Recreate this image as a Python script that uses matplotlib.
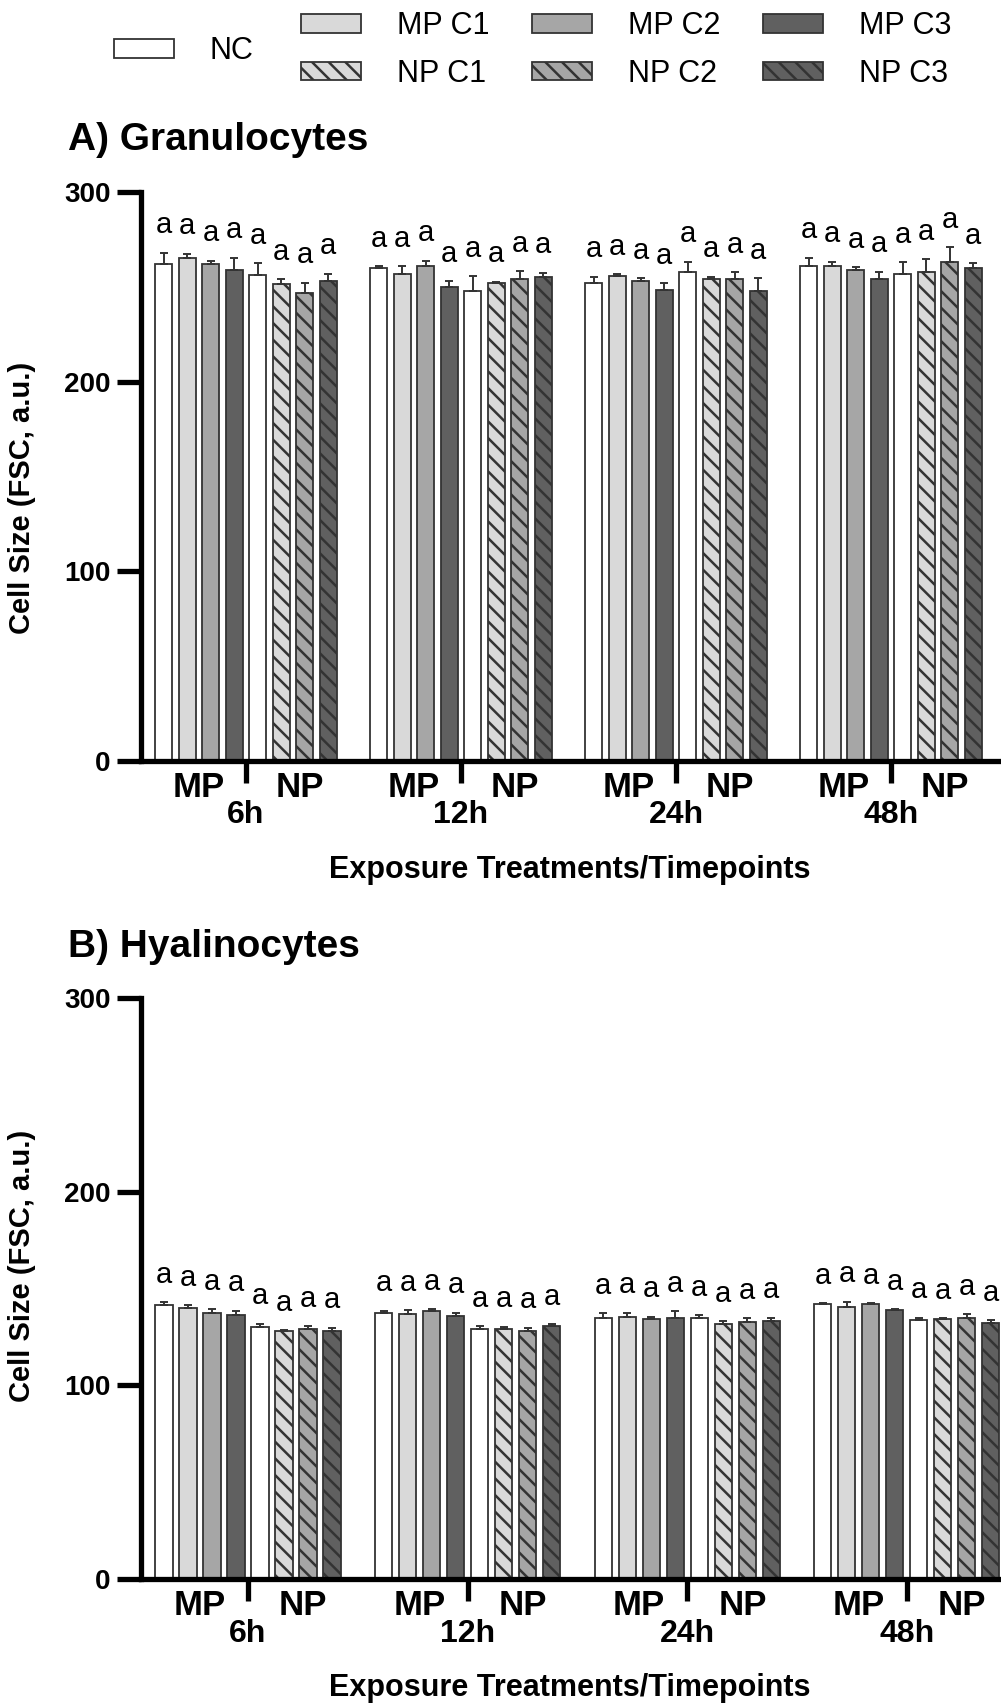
import numpy as np
import matplotlib
matplotlib.use("Agg")
import matplotlib.pyplot as plt
from matplotlib.transforms import blended_transform_factory

# ── Data ──────────────────────────────────────────────────────────────────────
timepoints = ["6h", "12h", "24h", "48h"]
subgroups = ["MP", "NP"]
treatments = ["NC", "MP C1", "MP C2", "MP C3", "NC", "NP C1", "NP C2", "NP C3"]

# rows = timepoints, columns = treatments
gran_mean = [
    [262.0, 265.4, 261.8, 258.8, 256.5, 251.3, 246.8, 253.0],
    [259.7, 256.7, 260.9, 250.0, 247.9, 251.8, 253.9, 255.0],
    [252.1, 255.7, 253.0, 248.3, 257.9, 254.1, 254.1, 247.9],
    [260.9, 260.9, 258.8, 254.1, 257.0, 257.9, 263.2, 260.0],
]
gran_err = [
    [6.0, 2.0, 2.0, 6.6, 6.0, 2.6, 5.3, 4.0],
    [1.2, 4.2, 2.8, 3.0, 7.8, 1.0, 4.4, 2.4],
    [3.2, 1.0, 1.5, 3.5, 5.3, 1.2, 3.5, 6.7],
    [4.5, 2.3, 1.4, 3.8, 6.0, 6.6, 7.6, 2.5],
]
hyal_mean = [
    [141.5, 139.8, 137.5, 136.3, 130.3, 128.0, 128.9, 128.0],
    [137.5, 136.8, 138.5, 135.8, 128.9, 128.9, 128.2, 130.8],
    [134.6, 135.4, 134.1, 134.6, 134.6, 131.6, 132.5, 133.2],
    [141.8, 140.6, 141.8, 138.9, 133.7, 134.1, 134.6, 132.3],
]
hyal_err = [
    [1.4, 1.7, 1.7, 2.2, 1.4, 0.5, 1.7, 1.7],
    [1.0, 2.1, 0.7, 1.7, 1.7, 1.4, 1.5, 0.8],
    [2.6, 2.1, 1.3, 3.8, 1.7, 1.6, 2.1, 1.7],
    [0.5, 2.6, 0.5, 0.5, 1.2, 0.5, 2.2, 1.4],
]
gran_letters = [
    ["a", "a", "a", "a", "a", "a", "a", "a"],
    ["a", "a", "a", "a", "a", "a", "a", "a"],
    ["a", "a", "a", "a", "a", "a", "a", "a"],
    ["a", "a", "a", "a", "a", "a", "a", "a"],
]
hyal_letters = gran_letters

# ── Style ─────────────────────────────────────────────────────────────────────
plt.rcParams["font.family"] = ["Liberation Sans", "DejaVu Sans"]
plt.rcParams["hatch.linewidth"] = 1.8

FILLS = ["white", "#d9d9d9", "#a6a6a6", "#606060",
         "white", "#d9d9d9", "#a6a6a6", "#606060"]
HATCHES = ["", "", "", "", "", "\\\\", "\\\\", "\\\\"]
EDGE = "#333333"
SPINE_W = 3.8
GROUP = 9.15      # spacing between timepoint groups (bar pitch = 1)
BAR_W = 0.72

W, H = 1001, 1705
fig = plt.figure(figsize=(W / 100, H / 100), dpi=100)


def px_rect(x0, y0, x1, y1):
    return [x0 / W, 1 - y1 / H, (x1 - x0) / W, (y1 - y0) / H]


def draw_panel(ax, means, errs, letters):
    means = np.array(means)
    errs = np.array(errs)
    base = np.arange(len(timepoints)) * GROUP
    handles = []
    for i in range(len(treatments)):
        x = base + i
        b = ax.bar(x, means[:, i], width=BAR_W, color=FILLS[i], edgecolor=EDGE,
                   linewidth=1.3, hatch=HATCHES[i], zorder=2)
        ax.errorbar(x, means[:, i], yerr=[np.zeros(len(x)), errs[:, i]],
                    fmt="none", ecolor=EDGE, elinewidth=1.4, capsize=3.2,
                    capthick=1.4, zorder=3)
        for g, (xi, m, e) in enumerate(zip(x, means[:, i], errs[:, i])):
            ax.annotate(letters[g][i], (xi, m + e), xytext=(0, 14),
                        textcoords="offset points", ha="center", va="baseline",
                        fontsize=21, annotation_clip=False)
        handles.append(b)

    ax.set_xlim(-0.96, 35.5)
    ax.set_ylim(0, 300)
    ax.set_yticks([0, 100, 200, 300])
    ax.tick_params(axis="y", length=17, width=SPINE_W, labelsize=20, pad=5)
    for lab in ax.get_yticklabels():
        lab.set_fontweight("bold")
    ax.set_xticks(base + 3.5)
    ax.tick_params(axis="x", length=16, width=SPINE_W, labelbottom=False)
    for s in ["top", "right"]:
        ax.spines[s].set_visible(False)
    for s in ["left", "bottom"]:
        ax.spines[s].set_linewidth(SPINE_W)
        ax.spines[s].set_capstyle("projecting")

    trans = blended_transform_factory(ax.transData, ax.transAxes)
    for g, t in enumerate(timepoints):
        for sx, sg in zip([1.5, 5.8], subgroups):
            ax.annotate(sg, (base[g] + sx, 0), xycoords=trans, xytext=(0, -26),
                        textcoords="offset points", ha="center", va="baseline",
                        fontsize=25, fontweight="bold", annotation_clip=False)
        ax.annotate(t, (base[g] + 3.5, 0), xycoords=trans, xytext=(0, -45),
                    textcoords="offset points", ha="center", va="baseline",
                    fontsize=23, fontweight="bold", annotation_clip=False)
    return handles


# ── Panel A ───────────────────────────────────────────────────────────────────
ax_a = fig.add_axes(px_rect(141, 192, 998, 761))
handles = draw_panel(ax_a, gran_mean, gran_err, gran_letters)
fig.text(68 / W, 1 - 150 / H, "A) Granulocytes", fontsize=28,
         fontweight="bold", va="baseline")
fig.text(22 / W, 1 - 498 / H, "Cell Size (FSC, a.u.)", rotation=90,
         fontsize=21, fontweight="bold", ha="center", va="center")
fig.text(570 / W, 1 - 878 / H, "Exposure Treatments/Timepoints",
         fontsize=22, fontweight="bold", ha="center", va="baseline")

# ── Panel B ───────────────────────────────────────────────────────────────────
ax_b = fig.add_axes(px_rect(141, 998, 1016, 1579))
draw_panel(ax_b, hyal_mean, hyal_err, hyal_letters)
fig.text(68 / W, 1 - 957 / H, "B) Hyalinocytes", fontsize=28,
         fontweight="bold", va="baseline")
fig.text(22 / W, 1 - 1266 / H, "Cell Size (FSC, a.u.)", rotation=90,
         fontsize=21, fontweight="bold", ha="center", va="center")
fig.text(570 / W, 1 - 1696 / H, "Exposure Treatments/Timepoints",
         fontsize=22, fontweight="bold", ha="center", va="baseline")

# ── Legend ────────────────────────────────────────────────────────────────────
leg_kw = dict(frameon=False, fontsize=22, handlelength=1.96, handleheight=0.56,
              handletextpad=1.18, borderpad=0, borderaxespad=0)
fig.legend([handles[0]], [treatments[0]], loc="center left",
           bbox_to_anchor=(114 / W, 1 - 51 / H), **leg_kw)
order = [1, 5, 2, 6, 3, 7]
fig.legend([handles[k] for k in order], [treatments[k] for k in order],
           loc="center left", bbox_to_anchor=(301 / W, 1 - 50 / H), ncol=3,
           labelspacing=0.58, columnspacing=1.39, **leg_kw)

fig.savefig("out.png", dpi=100)
